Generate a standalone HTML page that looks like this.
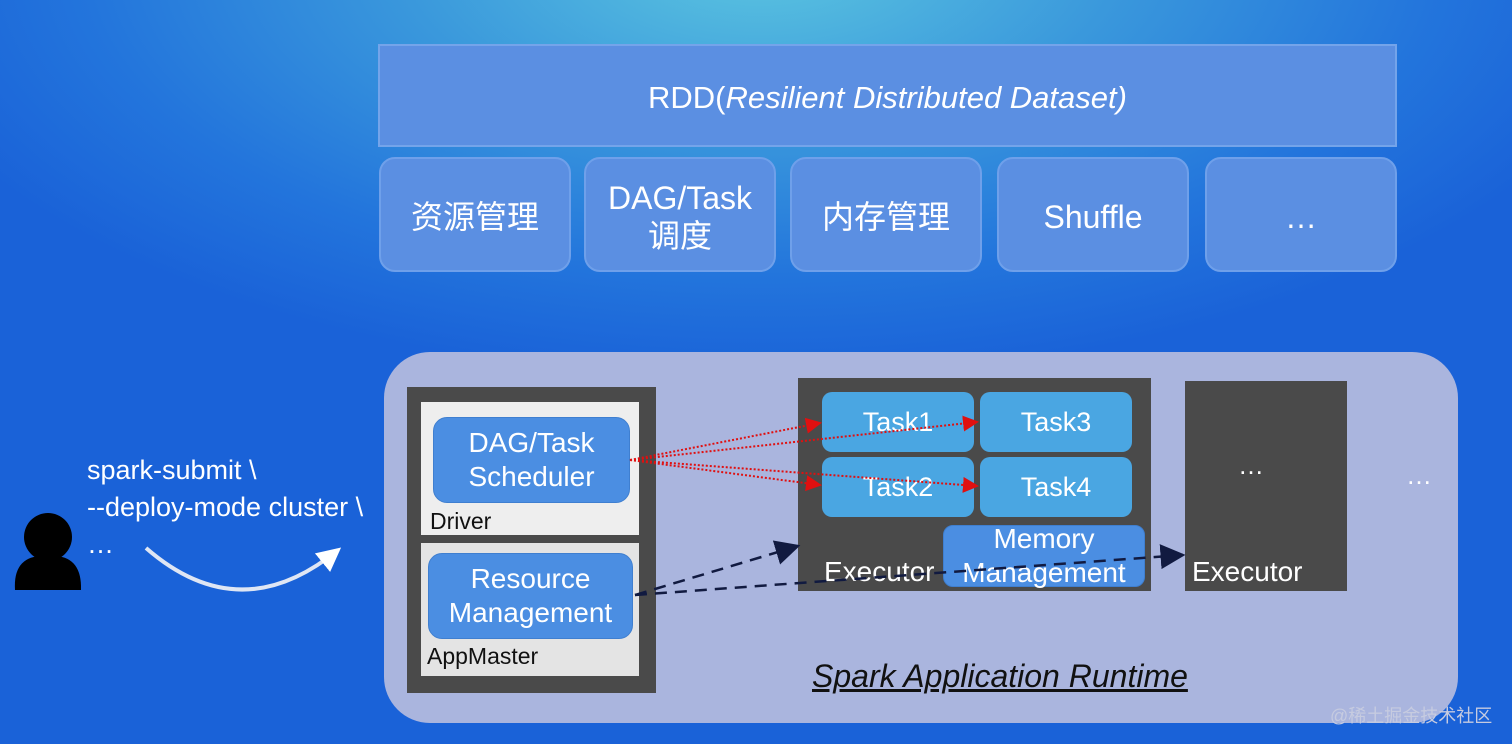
<!DOCTYPE html>
<html><head><meta charset="utf-8"><style>
*{margin:0;padding:0;box-sizing:border-box}
body{width:1512px;height:744px;overflow:hidden;position:relative;font-family:"Liberation Sans","Noto Sans CJK SC",sans-serif;
background:radial-gradient(ellipse 900px 420px at 760px -40px,#5cc6e0 0%,#3a98dc 40%,#2375dc 75%,#1a62d8 100%),#1a62d8;}
.a{position:absolute}
.box{position:absolute;background:#5b8fe2;border:2px solid #6fa0ea;border-radius:16px;color:#fff;font-size:32px;display:flex;align-items:center;justify-content:center;text-align:center;line-height:38px;padding-top:4px}
.w{color:#fff}
.task{position:absolute;background:#4aa6e2;border-radius:10px;color:#fff;font-size:27px;display:flex;align-items:center;justify-content:center}
.bl{position:absolute;background:#4b8ee2;border:1px solid #3f7fd0;border-radius:14px;color:#fff;font-size:28px;display:flex;align-items:center;justify-content:center;text-align:center;line-height:34px}
</style></head><body>
<div class="a" style="left:378px;top:44px;width:1019px;height:103px;background:#5b8fe2;border:2px solid #74a4ea;color:#fff;font-size:31px;display:flex;align-items:center;justify-content:center;padding-top:4px">RDD(<i>Resilient Distributed Dataset)</i></div>
<div class="box" style="left:379px;top:157px;width:192px;height:115px">资源管理</div>
<div class="box" style="left:584px;top:157px;width:192px;height:115px">DAG/Task<br>调度</div>
<div class="box" style="left:790px;top:157px;width:192px;height:115px">内存管理</div>
<div class="box" style="left:997px;top:157px;width:192px;height:115px">Shuffle</div>
<div class="box" style="left:1205px;top:157px;width:192px;height:115px">…</div>

<div class="a" style="left:384px;top:352px;width:1074px;height:371px;background:#aab5de;border-radius:46px"></div>
<div class="a" style="left:407px;top:387px;width:249px;height:306px;background:#4a4a4a"></div>
<div class="a" style="left:421px;top:402px;width:218px;height:133px;background:#eeeeee"></div>
<div class="a" style="left:421px;top:543px;width:218px;height:133px;background:#e4e4e4"></div>
<div class="bl" style="left:433px;top:417px;width:197px;height:86px">DAG/Task<br>Scheduler</div>
<div class="a" style="left:430px;top:508px;font-size:23px;color:#111">Driver</div>
<div class="bl" style="left:428px;top:553px;width:205px;height:86px">Resource<br>Management</div>
<div class="a" style="left:427px;top:643px;font-size:23px;color:#111">AppMaster</div>

<div class="a" style="left:798px;top:378px;width:353px;height:213px;background:#4a4a4a"></div>
<div class="task" style="left:822px;top:392px;width:152px;height:60px">Task1</div>
<div class="task" style="left:980px;top:392px;width:152px;height:60px">Task3</div>
<div class="task" style="left:822px;top:457px;width:152px;height:60px">Task2</div>
<div class="task" style="left:980px;top:457px;width:152px;height:60px">Task4</div>
<div class="bl" style="left:943px;top:525px;width:202px;height:62px;border-radius:10px;line-height:34px">Memory<br>Management</div>
<div class="a w" style="left:824px;top:556px;font-size:28px">Executor</div>

<div class="a" style="left:1185px;top:381px;width:162px;height:210px;background:#4a4a4a"></div>
<div class="a w" style="left:1238px;top:450px;font-size:26px">…</div>
<div class="a w" style="left:1192px;top:556px;font-size:28px">Executor</div>
<div class="a w" style="left:1406px;top:460px;font-size:26px">…</div>

<div class="a" style="left:812px;top:658px;font-size:32px;font-style:italic;color:#111;text-decoration:underline">Spark Application Runtime</div>

<svg class="a" style="left:0;top:0" width="1512" height="744">
<defs>
<marker id="r" markerWidth="8" markerHeight="8" refX="7" refY="4" orient="auto"><path d="M0,0L8,4L0,8z" fill="#e01010"/></marker>
<marker id="k" markerWidth="10" markerHeight="10" refX="9" refY="5" orient="auto"><path d="M0,0L10,5L0,10z" fill="#111a40"/></marker>
<marker id="wh" markerWidth="6" markerHeight="6" refX="5" refY="3" orient="auto"><path d="M0,0L6,3L0,6z" fill="#fff"/></marker>
</defs>
<g stroke="#e01010" stroke-width="2" stroke-dasharray="2,2" fill="none">
<line x1="630" y1="460" x2="820" y2="423" marker-end="url(#r)"/>
<line x1="630" y1="460" x2="977" y2="422" marker-end="url(#r)"/>
<line x1="630" y1="460" x2="820" y2="485" marker-end="url(#r)"/>
<line x1="630" y1="460" x2="977" y2="486" marker-end="url(#r)"/>
</g>
<g stroke="#111a40" stroke-width="2.5" stroke-dasharray="12,8" fill="none">
<line x1="635" y1="595" x2="798" y2="546" marker-end="url(#k)"/>
<line x1="635" y1="595" x2="1183" y2="555" marker-end="url(#k)"/>
</g>
<path d="M146,548 Q240,630 338,550" stroke="#dfe6f4" stroke-width="4" fill="none" marker-end="url(#wh)"/>
<circle cx="48" cy="537" r="24" fill="#000"/>
<path d="M15,590 Q13,558 40,556 L56,556 Q82,558 81,590 Z" fill="#000"/>
</svg>
<div class="a w" style="left:87px;top:452px;font-size:27px;line-height:37px">spark-submit \<br>--deploy-mode cluster \<br>…</div>
<div class="a" style="left:1330px;top:702px;font-size:18px;color:#c6cbe0">@稀土掘金技术社区</div>
</body></html>
